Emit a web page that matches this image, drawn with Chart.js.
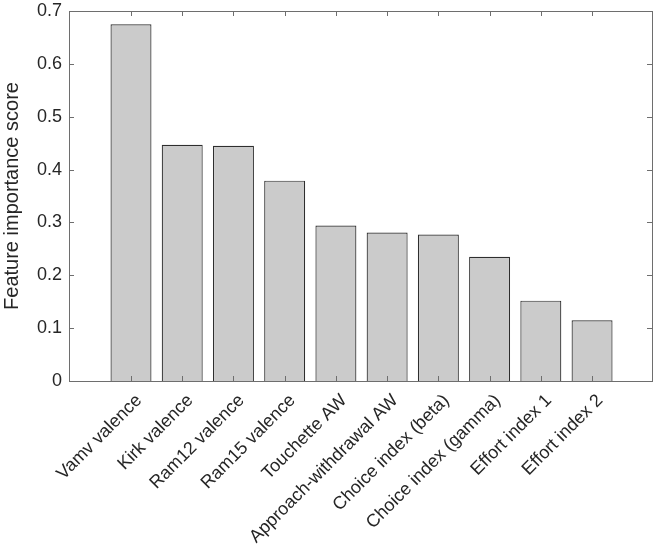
<!DOCTYPE html>
<html>
<head>
<meta charset="utf-8">
<script src="https://cdn.jsdelivr.net/npm/chart.js@4.4.1/dist/chart.umd.min.js"></script>
<style>
  html, body { margin: 0; padding: 0; background: #fff; }
  #wrap { width: 657px; height: 544px; position: relative; }
</style>
</head>
<body>
<div id="wrap"><canvas id="chart"></canvas></div>
<script>
// feature names and importance scores
const features = [
  'Vamv valence', 'Kirk valence', 'Ram12 valence', 'Ram15 valence', 'Touchette AW',
  'Approach-withdrawal AW', 'Choice index (beta)', 'Choice index (gamma)', 'Effort index 1', 'Effort index 2',
];
const scores = [0.675, 0.447, 0.445, 0.379, 0.294, 0.281, 0.277, 0.235, 0.152, 0.115];
const yTicks = [0, 0.1, 0.2, 0.3, 0.4, 0.5, 0.6, 0.7];
const yTitle = 'Feature importance score';

const FONT = "'Liberation Sans', Arial, Helvetica, sans-serif";
const axisColor = '#6e6e6e';
const textColor = '#262626';

// MATLAB-style box with inward ticks on all four sides
const boxPlugin = {
  id: 'boxAxes',
  afterDatasetsDraw(chart) {
    const { ctx, chartArea: a, scales } = chart;
    const len = 5;
    ctx.save();
    ctx.strokeStyle = axisColor;
    ctx.lineWidth = 1;
    features.forEach((_, i) => {
      const px = Math.round(scales.x.getPixelForValue(i + 1)) + 0.5;
      ctx.beginPath();
      ctx.moveTo(px, a.bottom); ctx.lineTo(px, a.bottom - len);
      ctx.moveTo(px, a.top); ctx.lineTo(px, a.top + len);
      ctx.stroke();
    });
    yTicks.forEach((v) => {
      const py = Math.round(scales.y.getPixelForValue(v)) + 0.5;
      ctx.beginPath();
      ctx.moveTo(a.left, py); ctx.lineTo(a.left + len, py);
      ctx.moveTo(a.right, py); ctx.lineTo(a.right - len, py);
      ctx.stroke();
    });
    ctx.strokeRect(Math.round(a.left) + 0.5, Math.round(a.top) + 0.5,
      Math.round(a.right - a.left), Math.round(a.bottom - a.top));
    ctx.restore();
  },
};

const canvas = document.getElementById('chart');
canvas.width = 657;
canvas.height = 544;

new Chart(canvas, {
  type: 'bar',
  data: {
    datasets: [{
      data: scores.map((v, i) => ({ x: i + 1, y: v })),
      backgroundColor: '#cbcbcb',
      borderColor: '#2e2e2e',
      borderWidth: 1.2,
      barPercentage: 0.8,
      categoryPercentage: 1,
    }],
  },
  options: {
    responsive: false,
    animation: false,
    devicePixelRatio: 1,
    layout: { padding: { top: 11, right: 5, left: 0, bottom: 0 } },
    plugins: {
      legend: { display: false },
      tooltip: { enabled: false },
    },
    scales: {
      x: {
        type: 'linear',
        offset: false,
        min: -0.21,
        max: 11.17,
        grid: { display: false, drawTicks: false, offset: false },
        border: { display: false },
        afterBuildTicks: (scale) => { scale.ticks = features.map((_, i) => ({ value: i + 1 })); },
        afterFit: (scale) => { scale.height = 163; scale.paddingLeft = 0; scale.paddingRight = 0; },
        ticks: {
          autoSkip: false,
          minRotation: 45,
          maxRotation: 45,
          padding: 9,
          labelOffset: 8,
          color: textColor,
          font: { family: FONT, size: 18 },
          callback: (v) => features[v - 1],
        },
      },
      y: {
        type: 'linear',
        min: 0,
        max: 0.7,
        grid: { display: false, drawTicks: false },
        border: { display: false },
        afterBuildTicks: (scale) => { scale.ticks = yTicks.map((v) => ({ value: v })); },
        afterFit: (scale) => { scale.width = 69; scale.paddingTop = 0; scale.paddingBottom = 0; },
        ticks: {
          padding: 7,
          color: textColor,
          font: { family: FONT, size: 18 },
          callback: (v) => String(+v.toFixed(1)),
        },
        title: {
          display: true,
          text: yTitle,
          color: textColor,
          font: { family: FONT, size: 20 },
          padding: { top: 0, bottom: 0 },
        },
      },
    },
  },
  plugins: [boxPlugin],
});
</script>
</body>
</html>
